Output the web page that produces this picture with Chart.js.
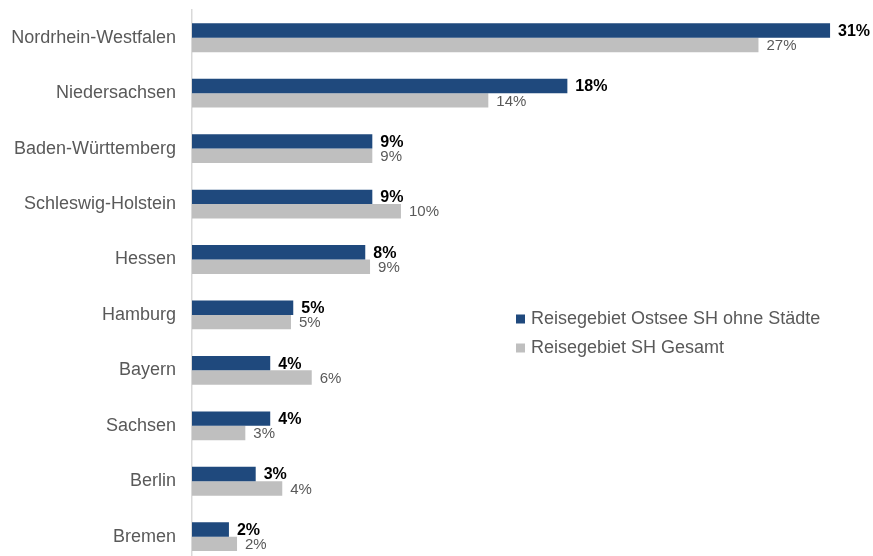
<!DOCTYPE html>
<html>
<head>
<meta charset="utf-8">
<script src="https://cdn.jsdelivr.net/npm/chart.js@4/dist/chart.umd.min.js"></script>
<style>
  html, body { margin: 0; padding: 0; background: #fff; overflow: hidden; }
  #wrap { width: 873px; height: 565px; }
</style>
</head>
<body>
<div id="wrap"><canvas id="c" width="873" height="565"></canvas></div>
<script>
const categories = ["Nordrhein-Westfalen", "Niedersachsen", "Baden-Württemberg", "Schleswig-Holstein", "Hessen", "Hamburg", "Bayern", "Sachsen", "Berlin", "Bremen"];
const seriesNames = ["Reisegebiet Ostsee SH ohne Städte", "Reisegebiet SH Gesamt"];
const ostseeValues = [30.75, 18.09, 8.69, 8.69, 8.35, 4.88, 3.77, 3.77, 3.07, 1.78];
const gesamtValues = [27.3, 14.28, 8.69, 10.07, 8.58, 4.77, 5.77, 2.57, 4.35, 2.17];
const ostseeLabels = ["31%", "18%", "9%", "9%", "8%", "5%", "4%", "4%", "3%", "2%"];
const gesamtLabels = ["27%", "14%", "9%", "10%", "9%", "5%", "6%", "3%", "4%", "2%"];

const FONT = "'Liberation Sans', Arial, sans-serif";

const valueLabels = {
  id: 'valueLabels',
  afterDatasetsDraw(chart) {
    const ctx = chart.ctx;
    ctx.save();
    ctx.textAlign = 'left';
    ctx.textBaseline = 'middle';
    chart.data.datasets.forEach((ds, di) => {
      const meta = chart.getDatasetMeta(di);
      const labels = di === 0 ? ostseeLabels : gesamtLabels;
      ctx.font = di === 0 ? "bold 16px " + FONT : "15px " + FONT;
      ctx.fillStyle = di === 0 ? '#000000' : '#595959';
      meta.data.forEach((bar, i) => {
        ctx.fillText(labels[i], bar.x + 8, bar.y + 1);
      });
    });
    ctx.restore();
  }
};

const customLegend = {
  id: 'customLegend',
  afterDraw(chart) {
    const ctx = chart.ctx;
    ctx.save();
    ctx.font = "18px " + FONT;
    ctx.textBaseline = 'middle';
    ctx.textAlign = 'left';
    chart.data.datasets.forEach((ds, di) => {
      const y = 319 + di * 29;
      ctx.fillStyle = ds.backgroundColor;
      ctx.fillRect(516, y - 4.5, 9, 9);
      ctx.fillStyle = '#595959';
      ctx.fillText(ds.label, 531, y);
    });
    ctx.restore();
  }
};

new Chart(document.getElementById('c'), {
  type: 'bar',
  data: {
    labels: categories,
    datasets: [
      { label: seriesNames[0], data: ostseeValues, backgroundColor: '#1F497D', borderWidth: 0 },
      { label: seriesNames[1], data: gesamtValues, backgroundColor: '#BFBFBF', borderWidth: 0 }
    ]
  },
  options: {
    indexAxis: 'y',
    responsive: false,
    animation: false,
    events: [],
    layout: { padding: { top: 10, right: 17, bottom: 0.6, left: 0 } },
    datasets: { bar: { categoryPercentage: 0.52, barPercentage: 1.0 } },
    plugins: { legend: { display: false }, tooltip: { enabled: false } },
    scales: {
      x: { display: false, min: 0, max: 32 },
      y: {
        afterFit(scale) { scale.width = 192; scale.paddingTop = 0; scale.paddingBottom = 0; },
        grid: { display: false, drawTicks: false },
        border: { display: true, color: '#D9D9D9', width: 1.5 },
        ticks: { color: '#595959', font: { family: FONT, size: 18 }, padding: 16 }
      }
    }
  },
  plugins: [valueLabels, customLegend]
});
</script>
</body>
</html>
